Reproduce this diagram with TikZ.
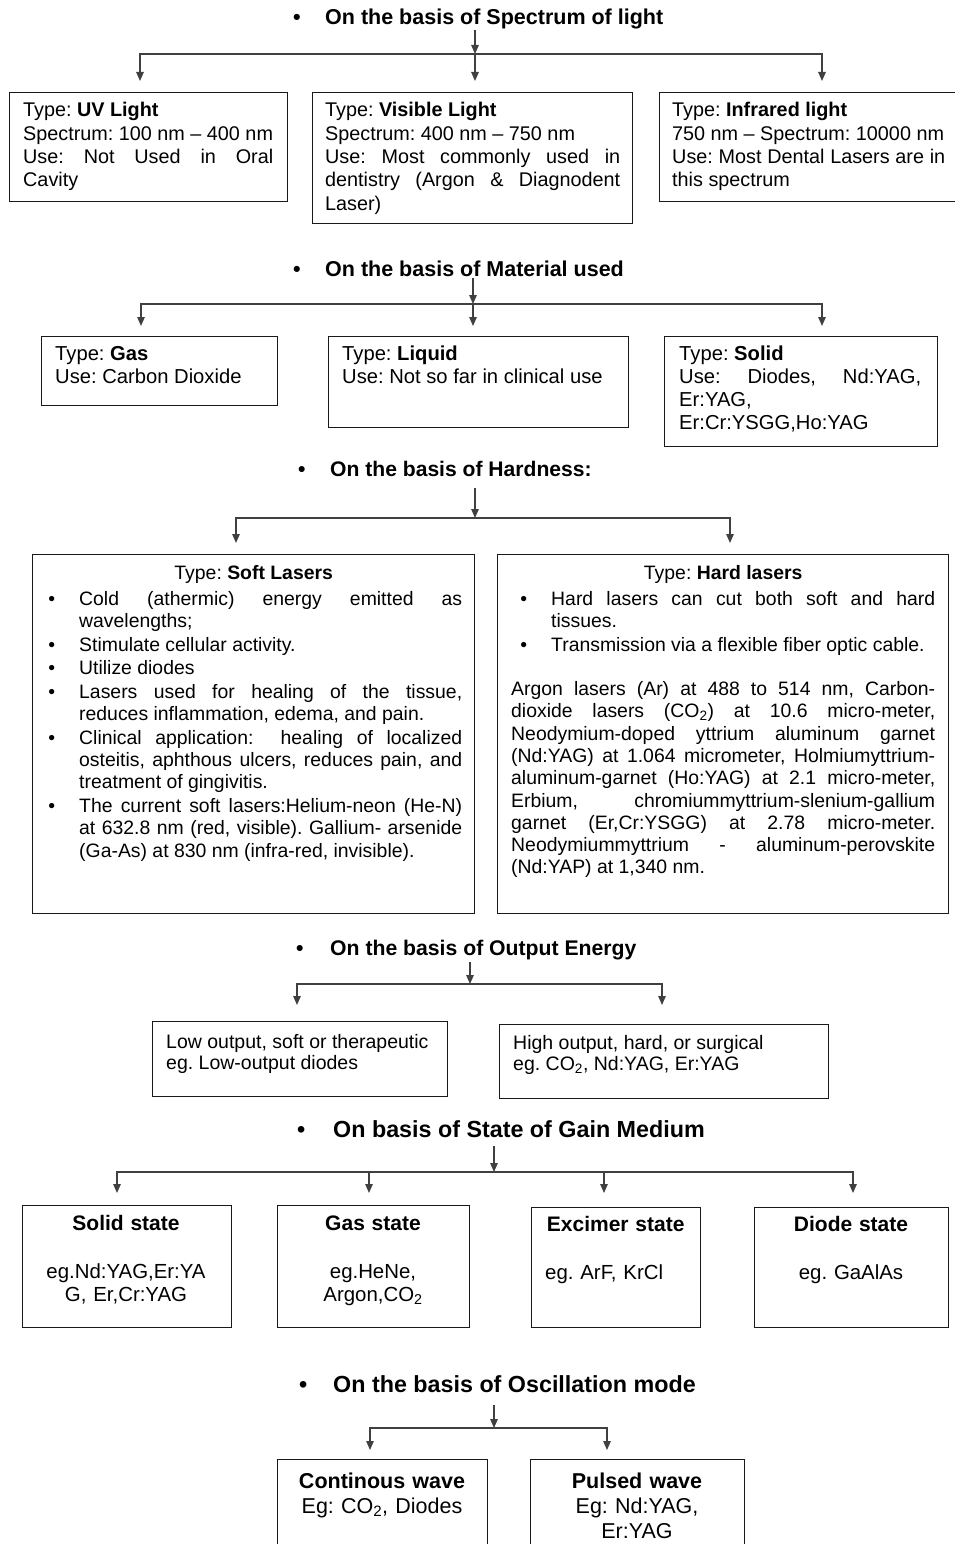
\documentclass[tikz,border=0pt]{standalone}
\usepackage{fontspec}
\setmainfont{Liberation Sans}
\usetikzlibrary{positioning,arrows.meta}
\hyphenpenalty=10000
\tolerance=10000
\frenchspacing

% bullet list used in the hardness boxes
\newenvironment{laserlist}[1]{%
  \begin{list}{\textbullet}{%
    \setlength\leftmargin{#1}\setlength\labelsep{24pt}%
    \setlength\labelwidth{10pt}\setlength\itemsep{1.3pt}%
    \setlength\parsep{0pt}\setlength\topsep{4pt}%
    \setlength\partopsep{0pt}}}%
  {\end{list}}

\begin{document}
\begin{tikzpicture}[x=1pt,y=-1pt,
catbox/.style={draw=black!90, line width=1.3pt, anchor=north west, inner sep=0pt},
heading/.style={anchor=base west, inner sep=0pt, text depth=0pt, font=\bfseries\fontsize{#1}{26}\selectfont},
heading/.default=21.5,
txt/.style={anchor=base west, inner sep=0pt, align=justify},
ctxt/.style={anchor=base, inner sep=0pt, align=center},
branchline/.style={draw=black!75, line width=1.3pt, line cap=rect},
brancharrow/.style={draw=black!75, line width=1.3pt, -{Triangle[length=9pt,width=7.5pt]}},
fontA/.style={font=\fontsize{19.8}{23.3}\selectfont},
fontB/.style={font=\fontsize{20.2}{23}\selectfont},
fontC/.style={font=\fontsize{19.4}{22.3}\selectfont},
fontD/.style={font=\fontsize{19.5}{21}\selectfont},
fontE/.style={font=\fontsize{20.4}{23.3}\selectfont},
fontF/.style={font=\fontsize{21.5}{25}\selectfont}
]
\clip (0,0) rectangle (955,1544);
%Headings
\node[heading] (spectrum) at (293,25) {\makebox[32pt][l]{\textbullet}On the basis of Spectrum of light};
\node[heading] (material) at (293,276) {\makebox[32pt][l]{\textbullet}On the basis of Material used};
\node[heading=21.1] (hardness) at (298,476) {\makebox[32pt][l]{\textbullet}On the basis of Hardness:};
\node[heading=21.2] (output) at (296,955) {\makebox[34pt][l]{\textbullet}On the basis of Output Energy};
\node[heading=23.3] (gain) at (297,1137) {\makebox[36pt][l]{\textbullet}On basis of State of Gain Medium};
\node[heading=23.3] (oscillation) at (299,1392) {\makebox[34pt][l]{\textbullet}On the basis of Oscillation mode};

%Spectrum of light
\node[catbox, minimum width=278pt, minimum height=109pt] (uv) at (9,92) {};
\node[catbox, minimum width=320pt, minimum height=131pt] (visible) at (312,92) {};
\node[catbox, minimum width=310pt, minimum height=109pt] (infrared) at (659,92) {};
\node[txt, fontA, text width=250pt] (uvtext) at (23,117) {Type: \textbf{UV Light}\\ Spectrum: 100 nm -- 400 nm\\ Use: Not Used in Oral\linebreak Cavity};
\node[txt, fontA, text width=295pt] (visibletext) at (325,117) {Type: \textbf{Visible Light}\\ Spectrum: 400 nm -- 750 nm\\ Use: Most commonly used in\linebreak dentistry (Argon \& Diagnodent\linebreak Laser)};
\node[txt, fontA, text width=273pt] (infraredtext) at (672,117) {Type: \textbf{Infrared light}\\ 750 nm -- Spectrum: 10000 nm\\ Use: Most Dental Lasers are in\linebreak this spectrum};

%Material used
\node[catbox, minimum width=236pt, minimum height=69pt] (gas) at (41,336) {};
\node[catbox, minimum width=300pt, minimum height=91pt] (liquid) at (328,336) {};
\node[catbox, minimum width=273pt, minimum height=110pt] (solid) at (664,336) {};
\node[txt, fontB, text width=210pt] (gastext) at (55,360) {Type: \textbf{Gas}\\ Use: Carbon Dioxide};
\node[txt, fontB, text width=270pt] (liquidtext) at (342,360) {Type: \textbf{Liquid}\\ Use: Not so far in clinical use};
\node[txt, fontB, text width=242pt] (solidtext) at (679,360) {Type: \textbf{Solid}\\ Use: Diodes, Nd:YAG,\linebreak Er:YAG,\\ Er:Cr:YSGG,Ho:YAG};

%Hardness
\node[catbox, minimum width=442pt, minimum height=359pt] (soft) at (32,554) {};
\node[catbox, minimum width=451pt, minimum height=359pt] (hard) at (497,554) {};
\node[txt, fontC, text width=417pt] (softtext) at (45,579) {{\centering Type: \textbf{Soft Lasers}\par}
\begin{laserlist}{34pt}
\item Cold (athermic) energy emitted as\linebreak wavelengths;
\item Stimulate cellular activity.
\item Utilize diodes
\item Lasers used for healing of the tissue,\linebreak reduces inflammation, edema, and pain.
\item Clinical application: \ healing of localized\linebreak osteitis, aphthous ulcers, reduces pain, and\linebreak treatment of gingivitis.
\item The current soft lasers:Helium-neon (He-N)\linebreak at 632.8 nm (red, visible). Gallium- arsenide\linebreak (Ga-As) at 830 nm (infra-red, invisible).
\end{laserlist}};
\node[txt, fontC, text width=424pt] (hardtext) at (511,579) {{\centering Type: \textbf{Hard lasers}\par}
\begin{laserlist}{40pt}
\item Hard lasers can cut both soft and hard\linebreak tissues.
\item Transmission via a flexible fiber optic cable.
\end{laserlist}
\vspace{18pt}
\noindent Argon lasers (Ar) at 488 to 514 nm, Carbon-\linebreak dioxide lasers (CO\textsubscript{2}) at 10.6 micro-meter,\linebreak Neodymium-doped yttrium aluminum garnet\linebreak (Nd:YAG) at 1.064 micrometer, Holmiumyttrium-\linebreak aluminum-garnet (Ho:YAG) at 2.1 micro-meter,\linebreak Erbium, chromiummyttrium-slenium-gallium\linebreak garnet (Er,Cr:YSGG) at 2.78 micro-meter.\linebreak Neodymiummyttrium - aluminum-perovskite\linebreak (Nd:YAP) at 1,340 nm.};

%Output energy
\node[catbox, minimum width=295pt, minimum height=75pt] (low) at (152,1021) {};
\node[catbox, minimum width=329pt, minimum height=74pt] (high) at (499,1024) {};
\node[txt, fontD, text width=270pt] (lowtext) at (166,1048) {Low output, soft or therapeutic\\ eg. Low-output diodes};
\node[txt, fontD, text width=300pt] (hightext) at (513,1049) {High output, hard, or surgical\\ eg. CO\textsubscript{2}, Nd:YAG, Er:YAG};

%State of gain medium
\node[catbox, minimum width=209pt, minimum height=122pt] (solidstate) at (22,1205) {};
\node[catbox, minimum width=192pt, minimum height=122pt] (gasstate) at (277,1205) {};
\node[catbox, minimum width=169pt, minimum height=120pt] (excimer) at (531,1207) {};
\node[catbox, minimum width=194pt, minimum height=120pt] (diode) at (754,1207) {};
\node[ctxt, fontE, text width=200pt] (solidstatetext) at (126,1230) {{\fontsize{21}{23}\bfseries Solid state}\\[24.7pt] eg.Nd:YAG,Er:YA\\ G, Er,Cr:YAG};
\node[ctxt, fontE, text width=185pt] (gasstatetext) at (373,1230) {{\fontsize{21}{23}\bfseries Gas state}\\[24.7pt] eg.HeNe,\\ Argon,CO\textsubscript{2}};
\node[txt, fontE, align=left, text width=141pt] (excimertext) at (545,1231) {\makebox[\linewidth]{\fontsize{21}{23}\bfseries Excimer state}\\[24.7pt] eg. ArF, KrCl};
\node[ctxt, fontE, text width=185pt] (diodetext) at (851,1231) {{\fontsize{21}{23}\bfseries Diode state}\\[24.7pt] eg. GaAlAs};

%Oscillation mode
\node[catbox, minimum width=210pt, minimum height=120pt] (continous) at (277,1459) {};
\node[catbox, minimum width=214pt, minimum height=120pt] (pulsed) at (530,1459) {};
\node[ctxt, fontF, text width=205pt] (continoustext) at (382,1488) {\textbf{Continous wave}\\ Eg: CO\textsubscript{2}, Diodes};
\node[ctxt, fontF, text width=205pt] (pulsedtext) at (637,1488) {\textbf{Pulsed wave}\\ Eg: Nd:YAG,\\ Er:YAG};

%Junctions
\coordinate (spec-j) at (475,54);
\coordinate (spec-l) at (140,54);
\coordinate (spec-r) at (822,54);
\coordinate (mat-j) at (473,304);
\coordinate (mat-l) at (141,304);
\coordinate (mat-r) at (822,304);
\coordinate (hard-j) at (475,518);
\coordinate (hard-l) at (236,518);
\coordinate (hard-r) at (730,518);
\coordinate (out-j) at (470,984);
\coordinate (out-l) at (297,984);
\coordinate (out-r) at (662,984);
\coordinate (gain-j) at (494,1172);
\coordinate (gain-l) at (117,1172);
\coordinate (gain-b) at (369,1172);
\coordinate (gain-c) at (604,1172);
\coordinate (gain-r) at (853,1172);
\coordinate (osc-j) at (494,1428);
\coordinate (osc-l) at (370,1428);
\coordinate (osc-r) at (607,1428);

%Lines
\draw[brancharrow, shorten <=4.5pt] (spectrum.south -| spec-j) -- (spec-j);
\draw[branchline] (spec-l) -- (spec-r);
\draw[brancharrow, shorten >=11pt] (spec-l) -- (spec-l |- uv.north);
\draw[brancharrow, shorten >=11pt] (spec-j) -- (spec-j |- visible.north);
\draw[brancharrow, shorten >=11pt] (spec-r) -- (spec-r |- infrared.north);

\draw[brancharrow, shorten <=2pt] (material.south -| mat-j) -- (mat-j);
\draw[branchline] (mat-l) -- (mat-r);
\draw[brancharrow, shorten >=10pt] (mat-l) -- (mat-l |- gas.north);
\draw[brancharrow, shorten >=10pt] (mat-j) -- (mat-j |- liquid.north);
\draw[brancharrow, shorten >=10pt] (mat-r) -- (mat-r |- solid.north);

\draw[brancharrow, shorten <=12pt] (hardness.south -| hard-j) -- (hard-j);
\draw[branchline] (hard-l) -- (hard-r);
\draw[brancharrow, shorten >=11pt] (hard-l) -- (hard-l |- soft.north);
\draw[brancharrow, shorten >=11pt] (hard-r) -- (hard-r |- hard.north);

\draw[brancharrow, shorten <=7pt] (output.south -| out-j) -- (out-j);
\draw[branchline] (out-l) -- (out-r);
\draw[brancharrow, shorten >=16pt] (out-l) -- (out-l |- low.north);
\draw[brancharrow, shorten >=19pt] (out-r) -- (out-r |- high.north);

\draw[brancharrow, shorten <=9pt] (gain.south -| gain-j) -- (gain-j);
\draw[branchline] (gain-l) -- (gain-r);
\draw[brancharrow, shorten >=12pt] (gain-l) -- (gain-l |- solidstate.north);
\draw[brancharrow, shorten >=12pt] (gain-b) -- (gain-b |- gasstate.north);
\draw[brancharrow, shorten >=14pt] (gain-c) -- (gain-c |- excimer.north);
\draw[brancharrow, shorten >=14pt] (gain-r) -- (gain-r |- diode.north);

\draw[brancharrow, shorten <=13pt] (oscillation.south -| osc-j) -- (osc-j);
\draw[branchline] (osc-l) -- (osc-r);
\draw[brancharrow, shorten >=9pt] (osc-l) -- (osc-l |- continous.north);
\draw[brancharrow, shorten >=9pt] (osc-r) -- (osc-r |- pulsed.north);
\end{tikzpicture}
\end{document}
